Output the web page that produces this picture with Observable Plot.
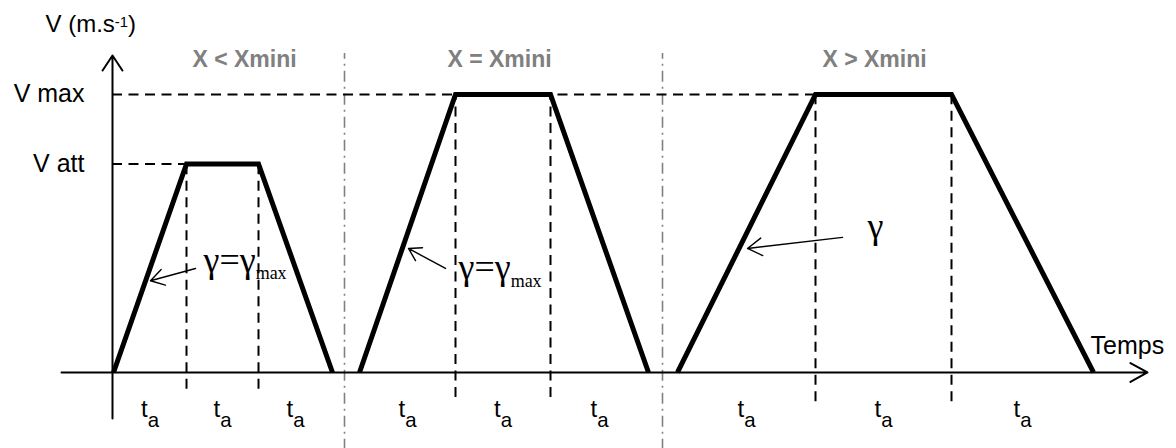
<!DOCTYPE html>
<html>
<head>
<meta charset="utf-8">
<script src="https://cdn.jsdelivr.net/npm/d3@7"></script>
<script src="https://cdn.jsdelivr.net/npm/@observablehq/plot@0.6"></script>
<style>
  html, body { margin: 0; padding: 0; background: #fff; }
  #chart svg { display: block; }
</style>
</head>
<body>
<div id="chart"></div>
<script>
// Three motion cases, each drawn as a trapezoidal speed profile:
// accelerate, cruise, brake (time in arbitrary units, speed as a fraction of V max).
const cases = ["X < Xmini", "X = Xmini", "X > Xmini"];
const caseTitleT = [1.32, 3.87, 7.62];
const startT = [0.01, 2.47, 5.65];
const cruiseStartT = [0.74, 3.43, 7.03];
const brakeStartT = [1.46, 4.38, 8.39];
const stopT = [2.20, 5.36, 9.81];
const cruiseLevel = ["V att", "V max", "V max"];
const guideFloor = [-0.06, -0.09, -0.105];

// Speed levels named on the vertical axis
const levelNames = ["V max", "V att"];
const levelValues = [1, 0.75];

// Boundaries between the three cases
const caseSeparatorsT = [2.32, 5.50];

// Label written under every phase (t with subscript a)
const phaseLabel = "t_{a}";

// Acceleration call-outs: text anchor and arrow from text to ramp
const accelText = ["γ=γ_{max}", "γ=γ_{max}", "γ"];
const accelTextT = [0.91, 3.46, 7.55];
const accelTextV = [0.363, 0.335, 0.482];
const accelFromT = [0.83, 3.33, 7.30];
const accelFromV = [0.374, 0.374, 0.486];
const accelToT = [0.38, 2.96, 6.35];
const accelToV = [0.33, 0.446, 0.446];

// Axis extents and names
const tMin = -0.51, tMax = 10.35;
const vMin = -0.1655, vTop = 1.14;
const speedTitle = "V (m.s^{-1})";
const timeTitle = "Temps";

// ---- derived tables ----
const level = Object.fromEntries(levelNames.map((n, i) => [n, levelValues[i]]));

const profiles = cases.flatMap((c, i) => {
  const v = level[cruiseLevel[i]];
  return [
    {c, t: startT[i], v: 0},
    {c, t: cruiseStartT[i], v},
    {c, t: brakeStartT[i], v},
    {c, t: stopT[i], v: 0}
  ];
});

const phaseGuides = cases.flatMap((c, i) =>
  [cruiseStartT[i], brakeStartT[i]].map(t => ({t, v: level[cruiseLevel[i]], floor: guideFloor[i]}))
);

const levelGuides = levelNames.map((name, i) => ({
  name,
  v: levelValues[i],
  tEnd: d3.max(cases.map((c, k) => cruiseLevel[k] === name ? cruiseStartT[k] : -Infinity))
}));

const phaseLabels = cases.flatMap((c, i) => {
  const b = [startT[i], cruiseStartT[i], brakeStartT[i], stopT[i]];
  return [0, 1, 2].map(k => ({t: (b[k] + b[k + 1]) / 2, label: phaseLabel}));
});

const callouts = accelText.map((text, i) => ({
  text, tt: accelTextT[i], tv: accelTextV[i],
  t1: accelFromT[i], v1: accelFromV[i], t2: accelToT[i], v2: accelToV[i]
}));

const sans = "'Liberation Sans', Arial, sans-serif";
const serif = "'Liberation Serif', 'Times New Roman', serif";
const dash = "10,6.5";

const plot = Plot.plot({
  width: 1176,
  height: 448,
  marginLeft: 61,
  marginRight: 29,
  marginTop: 55,
  marginBottom: 30,
  x: {domain: [tMin, tMax], axis: null},
  y: {domain: [vMin, vTop], axis: null},
  style: {background: "#fff", overflow: "visible"},
  marks: [
    // dash-dot separators between cases
    Plot.ruleX(caseSeparatorsT, {
      y1: -0.28, y2: 1.147, stroke: "#808080", strokeWidth: 1.6, strokeDasharray: "11,5,2,5"
    }),
    // horizontal guides at the named speeds
    Plot.ruleY(levelGuides, {
      y: "v", x1: 0, x2: "tEnd", stroke: "#000", strokeWidth: 2, strokeDasharray: dash
    }),
    // vertical guides at the phase changes
    Plot.ruleX(phaseGuides, {
      x: "t", y1: "floor", y2: "v", stroke: "#000", strokeWidth: 2, strokeDasharray: dash
    }),
    // time axis
    Plot.arrow([{t1: tMin, t2: tMax}], {
      x1: "t1", x2: "t2", y1: 0, y2: 0, stroke: "#000", strokeWidth: 2,
      headLength: 14.6, headAngle: 58
    }),
    // speed axis
    Plot.arrow([{v1: vMin, v2: vTop}], {
      x1: 0, x2: 0, y1: "v1", y2: "v2", stroke: "#000", strokeWidth: 2,
      headLength: 13.5, headAngle: 67
    }),
    // speed profiles
    Plot.line(profiles, {
      x: "t", y: "v", z: "c", stroke: "#000", strokeWidth: 5,
      strokeLinejoin: "miter", strokeLinecap: "butt", strokeMiterlimit: 4
    }),
    // acceleration call-out arrows
    Plot.arrow(callouts, {
      x1: "t1", y1: "v1", x2: "t2", y2: "v2", stroke: "#000", strokeWidth: 1.4,
      headLength: 18, headAngle: 63
    }),
    Plot.text(callouts, {
      x: "tt", y: "tv", text: "text", textAnchor: "start", lineAnchor: "bottom",
      fontFamily: serif, fontSize: 36, fill: "#000"
    }),
    // case titles
    Plot.text(cases, {
      x: (d, i) => caseTitleT[i], y: 1.097, text: d => d, textAnchor: "middle", lineAnchor: "bottom",
      fontFamily: sans, fontSize: 23, fontWeight: "bold", fill: "#808080"
    }),
    // named speed levels
    Plot.text(levelGuides, {
      x: -0.28, y: "v", text: "name", textAnchor: "end", lineAnchor: "middle",
      fontFamily: sans, fontSize: 25, fill: "#000"
    }),
    // phase labels
    Plot.text(phaseLabels, {
      x: "t", y: -0.16, text: "label", textAnchor: "middle", lineAnchor: "bottom",
      fontFamily: sans, fontSize: 24, fill: "#000"
    }),
    // axis titles
    Plot.text([speedTitle], {
      x: -0.67, y: 1.223, text: d => d, textAnchor: "start", lineAnchor: "bottom",
      fontFamily: sans, fontSize: 24, fill: "#000"
    }),
    Plot.text([timeTitle], {
      x: 9.78, y: 0.068, text: d => d, textAnchor: "start", lineAnchor: "bottom",
      fontFamily: sans, fontSize: 25, fill: "#000"
    })
  ]
});

document.getElementById("chart").append(plot);

// Script size (fraction of the base size) and baseline shift (in base em)
// for each label that carries _{...} or ^{...} markup.
const scriptStyle = {
  [phaseLabel]: [0.85, 0.4],
  "γ=γ_{max}": [0.5, 0.2],
  [speedTitle]: [0.62, 0.22]
};

// Turn _{...} and ^{...} markup into real sub/superscript tspans.
function typeset(svg) {
  d3.select(svg).selectAll("text").each(function () {
    const raw = this.textContent;
    const style = scriptStyle[raw];
    if (!style) return;
    const [scale, shift] = style;
    const parts = raw.split(/([_^]\{[^}]*\})/).filter(s => s.length);
    const base = parseFloat(getComputedStyle(this).fontSize);
    const off = shift * base;
    this.textContent = "";
    let raised = 0;
    for (const p of parts) {
      const span = d3.select(this).append("tspan");
      const m = p.match(/^([_^])\{(.*)\}$/);
      if (m) {
        const d = m[1] === "_" ? off : -off;
        span.attr("font-size", base * scale).attr("dy", d - raised).text(m[2]);
        raised = d;
      } else {
        span.attr("dy", -raised).text(p);
        raised = 0;
      }
    }
  });
}
typeset(plot);
</script>
</body>
</html>
